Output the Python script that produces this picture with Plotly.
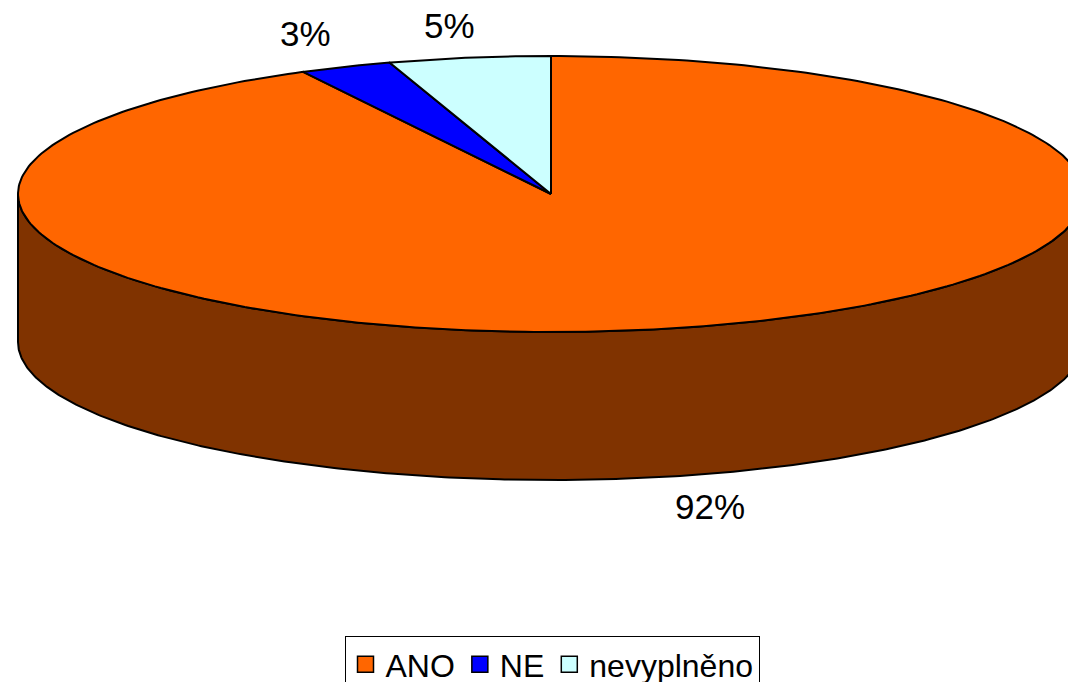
import numpy as np
import plotly.graph_objects as go

categories = ["ANO", "NE", "nevyplněno"]
values = [92.3, 2.8, 4.9]
colors = ["#FF6600", "#0000FF", "#CCFFFF"]
side_color = "#803300"
label_pos = [(710, 506), (305, 33), (449, 25)]

CX, CY, RX, RY, DEPTH = 551, 194, 533, 138, 148
FONT = "Liberation Sans"
FIG_W, FIG_H = 1068, 700   # taller than the window, so the legend box runs off the bottom


def rim(a0, a1):
    t = np.radians(np.linspace(a0, a1, 361))
    return CX + RX * np.sin(t), CY - RY * np.cos(t)


fig = go.Figure()

# Side wall (front half of the disc)
xs, ys = rim(90, 270)
fig.add_trace(go.Scatter(
    x=np.concatenate([xs, xs[::-1]]),
    y=np.concatenate([ys, ys[::-1] + DEPTH]),
    mode="lines", fill="toself", fillcolor=side_color,
    line=dict(color="black", width=2), hoverinfo="skip", showlegend=False,
))

# Top-face wedges, clockwise from 12 o'clock
total = sum(values)
start = 0.0
for name, val, col in zip(categories, values, colors):
    sweep = 360.0 * val / total
    xs, ys = rim(start, start + sweep)
    fig.add_trace(go.Scatter(
        x=np.concatenate([[CX], xs, [CX]]),
        y=np.concatenate([[CY], ys, [CY]]),
        mode="lines", fill="toself", fillcolor=col,
        line=dict(color="black", width=2), name=name, showlegend=False,
    ))
    start += sweep

# Legend entries
for name, col in zip(categories, colors):
    fig.add_trace(go.Scatter(
        x=[None], y=[None], mode="markers", name=name,
        marker=dict(symbol="square", size=17, color=col,
                    line=dict(color="black", width=1.5)),
    ))

for val, (lx, ly) in zip(values, label_pos):
    fig.add_annotation(x=lx, y=ly, text=f"{val:.0f}%", showarrow=False,
                       font=dict(family=FONT, size=35, color="black"))

fig.update_layout(
    width=FIG_W, height=FIG_H, autosize=False,
    margin=dict(l=0, r=0, t=0, b=0),
    paper_bgcolor="white", plot_bgcolor="white",
    xaxis=dict(range=[0, FIG_W], visible=False, fixedrange=True),
    yaxis=dict(range=[FIG_H, 0], visible=False, fixedrange=True),
    font=dict(family=FONT, size=32, color="black"),
    legend=dict(orientation="h", x=552 / FIG_W, xanchor="center",
                y=1 - 636 / FIG_H, yanchor="top",
                bgcolor="white", bordercolor="black", borderwidth=1,
                itemwidth=30),
)
fig.write_html(
    "out.html",
    config={"displayModeBar": False},
    post_script="document.documentElement.style.overflow='hidden';"
                "document.body.style.margin='0';document.body.style.overflow='hidden';",
)
